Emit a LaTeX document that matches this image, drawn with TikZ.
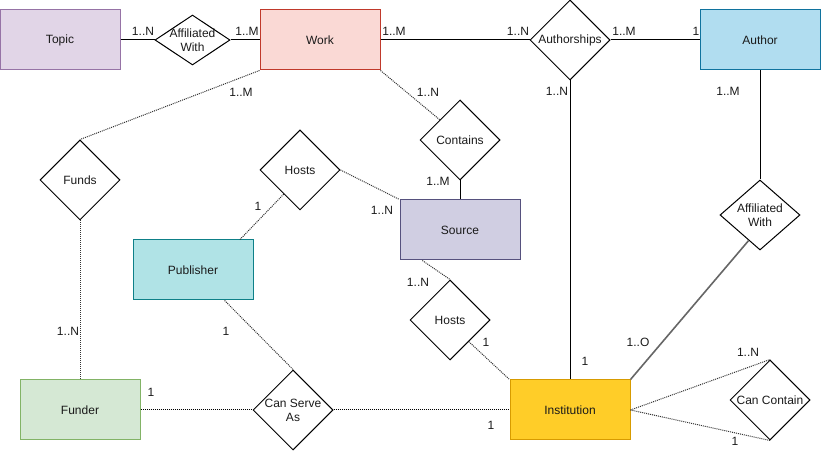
\documentclass[tikz,border=0pt]{standalone}
\usepackage{fontspec}
\setmainfont{Liberation Sans}
\usetikzlibrary{shapes.geometric}
\definecolor{topicF}{HTML}{E1D5E7}\definecolor{topicD}{HTML}{9673A6}
\definecolor{workF}{HTML}{FAD9D5}\definecolor{workD}{HTML}{C0392B}
\definecolor{authF}{HTML}{B1DDF0}\definecolor{authD}{HTML}{10739E}
\definecolor{srcF}{HTML}{D0CEE2}\definecolor{srcD}{HTML}{56517E}
\definecolor{pubF}{HTML}{B0E3E6}\definecolor{pubD}{HTML}{0E8088}
\definecolor{fundF}{HTML}{D5E8D4}\definecolor{fundD}{HTML}{82B366}
\definecolor{instF}{HTML}{FFCD28}\definecolor{instD}{HTML}{D79B00}
\definecolor{dotline}{HTML}{333333}
\definecolor{txt}{HTML}{1A1A1A}
\begin{document}
\begin{tikzpicture}[x=0.75pt,y=-0.75pt,
  font=\fontsize{9}{10.5}\selectfont, text=txt,
  entity/.style={draw, rectangle, line width=0.75pt, minimum width=90pt, minimum height=45pt, inner sep=0pt},
  rel/.style={draw, diamond, line width=0.75pt, inner sep=0pt, minimum width=60pt, minimum height=60pt},
  solidlink/.style={draw, line width=0.75pt},
  dotlink/.style={draw=dotline, line width=0.75pt, dash pattern=on 0.75pt off 0.75pt},
  card/.style={inner sep=0pt}]
\useasboundingbox (0,0) rectangle (822,452);

% entities
\node[entity, fill=topicF, draw=topicD] (topic) at (60,40) {Topic};
\node[entity, fill=workF, draw=workD] (work) at (320,40) {Work};
\node[entity, fill=authF, draw=authD] (author) at (760,40) {Author};
\node[entity, fill=srcF, draw=srcD] (source) at (460,230) {Source};
\node[entity, fill=pubF, draw=pubD] (publisher) at (193,270) {Publisher};
\node[entity, fill=fundF, draw=fundD] (funder) at (80,410) {Funder};
\node[entity, fill=instF, draw=instD] (institution) at (570,410) {Institution};

% relationships
\node[rel, minimum width=56.25pt, minimum height=37.5pt, label={[align=center, inner sep=0pt]center:Affiliated\\With}] (affwork) at (192.5,40) {};
\node[rel, label={center:Authorships}] (authorships) at (570,40) {};
\node[rel, label={center:Contains}] (contains) at (460,140) {};
\node[rel, label={center:Funds}] (funds) at (80,180) {};
\node[rel, label={center:Hosts}] (hostspub) at (300,170) {};
\node[rel, minimum height=52.5pt, label={[align=center, inner sep=0pt]center:Affiliated\\With}] (affinst) at (760,215) {};
\node[rel, label={center:Hosts}] (hostsinst) at (450,320) {};
\node[rel, label={[align=center, inner sep=0pt]center:Can Serve\\As}] (canserve) at (293,410) {};
\node[rel, label={center:Can Contain}] (cancontain) at (770,400) {};

% solid connectors
\path[solidlink] (topic.east) -- (affwork.west);
\path[solidlink] (affwork.east) -- (work.west);
\path[solidlink] (work.east) -- (authorships.west);
\path[solidlink] (authorships.east) -- (author.west);
\path[solidlink] (authorships.south) -- (institution.north);
\path[solidlink] (author.south) -- (affinst.north);
\path[solidlink] (contains.south) -- (source.north);
\path[draw=black!60, line width=1.2pt] (affinst.246) -- (institution.north east);

% dotted connectors
\path[dotlink] (work.south west) -- (funds.north);
\path[dotlink] (funds.south) -- (funder.north);
\path[dotlink] (work.south east) -- (contains.north west);
\path[dotlink] (hostspub.east) -- (source.north west);
\path[dotlink] (hostspub.236) -- (publisher.33);
\path[dotlink] (source.219) -- (hostsinst.north);
\path[dotlink] (hostsinst.-49) -- (institution.north west);
\path[dotlink] (publisher.-44) -- (canserve.north);
\path[dotlink, draw=black] (funder.east) -- (canserve.west);
\path[dotlink, draw=black] (canserve.east) -- (institution.west);
\path[dotlink] (institution.east) -- (cancontain.north);
\path[dotlink] (institution.east) -- (cancontain.south);

% cardinalities
\node[card] (c1) at (143,31) {1..N};
\node[card] (c2) at (247,31) {1..M};
\node[card] (c3) at (394,31) {1..M};
\node[card] (c4) at (518,31) {1..N};
\node[card] (c5) at (624,31) {1..M};
\node[card] (c6) at (696,31) {1};
\node[card] (c7) at (557,91) {1..N};
\node[card] (c8) at (728,91) {1..M};
\node[card] (c9) at (241,92) {1..M};
\node[card] (c10) at (428,92) {1..N};
\node[card] (c11) at (438,181) {1..M};
\node[card] (c12) at (382,210) {1..N};
\node[card] (c13) at (258,206) {1};
\node[card] (c14) at (418,282) {1..N};
\node[card] (c15) at (68,331) {1..N};
\node[card] (c16) at (226,331) {1};
\node[card] (c17) at (486,342) {1};
\node[card] (c18) at (638,342) {1..O};
\node[card] (c19) at (748,352) {1..N};
\node[card] (c20) at (585,361) {1};
\node[card] (c21) at (151,392) {1};
\node[card] (c22) at (491,425) {1};
\node[card] (c23) at (735,441) {1};
\end{tikzpicture}
\end{document}
